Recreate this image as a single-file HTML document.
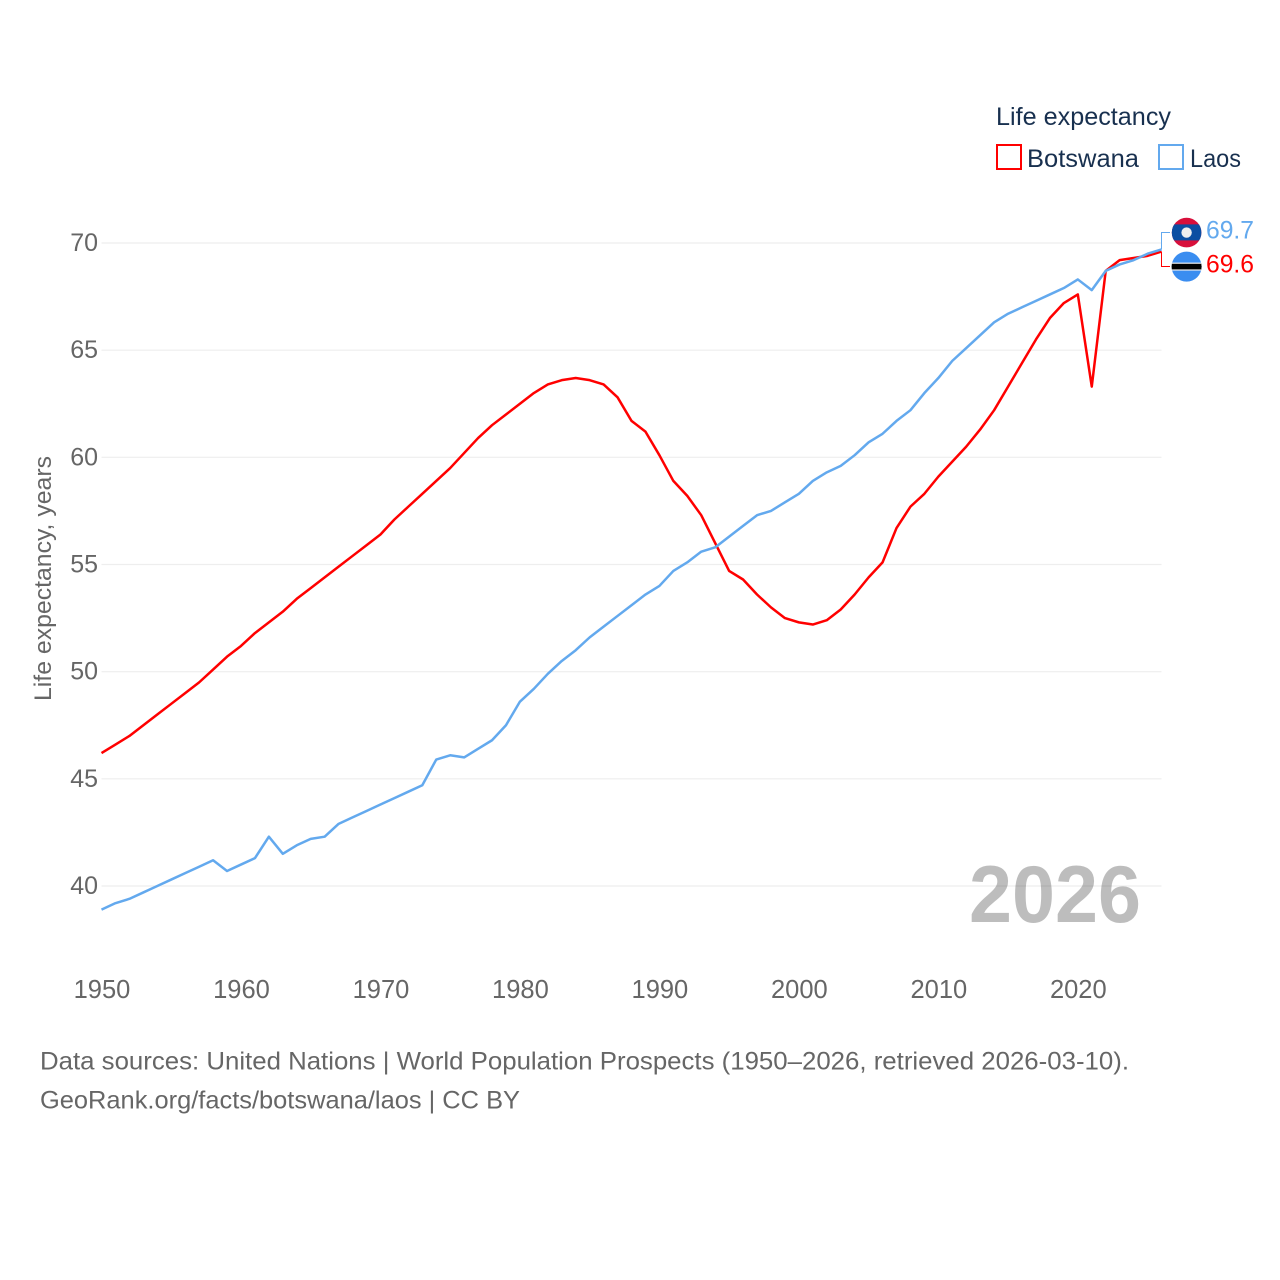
<!DOCTYPE html>
<html lang="en">
<head>
<meta charset="utf-8">
<title>Life expectancy: Botswana and Laos</title>
<style>
html,body{margin:0;padding:0;background:#fff;}
svg{display:block;font-family:"Liberation Sans",Arial,sans-serif;}
</style>
</head>
<body>
<svg id="chart" width="1280" height="1280" viewBox="0 0 1280 1280" xmlns="http://www.w3.org/2000/svg">
  <rect width="1280" height="1280" fill="#fff"/>
  <g id="grid"></g>
  <g id="yticks"></g>
  <g id="xticks"></g>
  <text transform="translate(51,701) rotate(-90)" font-size="24" fill="#666" textLength="245" lengthAdjust="spacingAndGlyphs">Life expectancy, years</text>
  <text x="969" y="922" font-size="81" font-weight="bold" fill="#000" fill-opacity="0.26" textLength="172" lengthAdjust="spacingAndGlyphs">2026</text>
  <path id="connector-botswana" fill="none" stroke="#ff0000" stroke-width="1"/>
  <path id="connector-laos" fill="none" stroke="#63a9ee" stroke-width="1"/>
  <path id="line-botswana" fill="none" stroke="#ff0000" stroke-width="2.5" stroke-linejoin="round"/>
  <path id="line-laos" fill="none" stroke="#63a9ee" stroke-width="2.5" stroke-linejoin="round"/>

  <g>
    <clipPath id="clip-laos"><circle cx="1186.6" cy="232.6" r="14.8"/></clipPath>
    <g clip-path="url(#clip-laos)">
      <rect x="1170" y="216" width="34" height="34" fill="#d80f3b"/>
      <rect x="1170" y="224.4" width="34" height="16" fill="#0b4ea2"/>
      <circle cx="1186.6" cy="232.6" r="5.2" fill="#eeeeee"/>
    </g>
  </g>
  <g>
    <clipPath id="clip-bots"><circle cx="1186.6" cy="266.6" r="15"/></clipPath>
    <g clip-path="url(#clip-bots)">
      <rect x="1170" y="250" width="34" height="34" fill="#3a8df0"/>
      <rect x="1170" y="262.6" width="34" height="8" fill="#eeeeee"/>
      <rect x="1170" y="263.8" width="34" height="5.6" fill="#000"/>
    </g>
  </g>
  <text id="value-laos" x="1206" y="238.5" font-size="25" fill="#63a9ee" textLength="48" lengthAdjust="spacingAndGlyphs"></text>
  <text id="value-botswana" x="1206" y="272.5" font-size="25" fill="#ff0000" textLength="48" lengthAdjust="spacingAndGlyphs"></text>

  <text x="996" y="125" font-size="25" fill="#18304f" textLength="175" lengthAdjust="spacingAndGlyphs">Life expectancy</text>
  <rect x="997" y="145" width="24" height="24" fill="#fff" stroke="#ff0000" stroke-width="2"/>
  <text x="1027" y="167" font-size="25" fill="#18304f" textLength="112" lengthAdjust="spacingAndGlyphs">Botswana</text>
  <rect x="1159" y="145" width="24" height="24" fill="#fff" stroke="#63a9ee" stroke-width="2"/>
  <text x="1190" y="167" font-size="25" fill="#18304f" textLength="51" lengthAdjust="spacingAndGlyphs">Laos</text>

  <text x="40" y="1069.5" font-size="25" fill="#666" textLength="1089" lengthAdjust="spacingAndGlyphs">Data sources: United Nations | World Population Prospects (1950–2026, retrieved 2026-03-10).</text>
  <text x="40" y="1108.5" font-size="25" fill="#666" textLength="480" lengthAdjust="spacingAndGlyphs">GeoRank.org/facts/botswana/laos | CC BY</text>
</svg>
<script>
const startYear = 1950;
const endYear = 2026;
const xTickLabels = [1950, 1960, 1970, 1980, 1990, 2000, 2010, 2020];
const yTickLabels = [40, 45, 50, 55, 60, 65, 70];
const botswana = [46.2,46.6,47.0,47.5,48.0,48.5,49.0,49.5,50.1,50.7,51.2,51.8,52.3,52.8,53.4,53.9,54.4,54.9,55.4,55.9,56.4,57.1,57.7,58.3,58.9,59.5,60.2,60.9,61.5,62.0,62.5,63.0,63.4,63.6,63.7,63.6,63.4,62.8,61.7,61.2,60.1,58.9,58.2,57.3,56.0,54.7,54.3,53.6,53.0,52.5,52.3,52.2,52.4,52.9,53.6,54.4,55.1,56.7,57.7,58.3,59.1,59.8,60.5,61.3,62.2,63.3,64.4,65.5,66.5,67.2,67.6,63.3,68.7,69.2,69.3,69.4,69.6];
const laos = [38.9,39.2,39.4,39.7,40.0,40.3,40.6,40.9,41.2,40.7,41.0,41.3,42.3,41.5,41.9,42.2,42.3,42.9,43.2,43.5,43.8,44.1,44.4,44.7,45.9,46.1,46.0,46.4,46.8,47.5,48.6,49.2,49.9,50.5,51.0,51.6,52.1,52.6,53.1,53.6,54.0,54.7,55.1,55.6,55.8,56.3,56.8,57.3,57.5,57.9,58.3,58.9,59.3,59.6,60.1,60.7,61.1,61.7,62.2,63.0,63.7,64.5,65.1,65.7,66.3,66.7,67.0,67.3,67.6,67.9,68.3,67.8,68.7,69.0,69.2,69.5,69.7];

const NS = 'http://www.w3.org/2000/svg';
function xScale(year) { return 101.5 + (year - startYear) * (1161.5 - 101.5) / (endYear - startYear); }
function yScale(value) { return 886 - (value - 40) * (886 - 243) / 30; }
function linePath(values) {
  return values.map(function (v, i) {
    return (i ? 'L' : 'M') + xScale(startYear + i).toFixed(2) + ' ' + yScale(v).toFixed(2);
  }).join(' ');
}

const grid = document.getElementById('grid');
const yticks = document.getElementById('yticks');
const xticks = document.getElementById('xticks');

yTickLabels.forEach(function (t) {
  const l = document.createElementNS(NS, 'line');
  
  
  l.setAttribute('x1', xScale(startYear));
  l.setAttribute('x2', xScale(endYear));
  l.setAttribute('y1', yScale(t));
  l.setAttribute('y2', yScale(t));
  l.setAttribute('stroke', '#eeeeee');
  l.setAttribute('stroke-width', '1.2');
  grid.appendChild(l);

  const s = document.createElementNS(NS, 'text');
  
  
  s.setAttribute('x', 98);
  s.setAttribute('y', yScale(t) + 8);
  s.setAttribute('text-anchor', 'end');
  s.setAttribute('font-size', '25');
  s.setAttribute('fill', '#666');
  s.textContent = t;
  yticks.appendChild(s);
});

xTickLabels.forEach(function (t) {
  const s = document.createElementNS(NS, 'text');
  
  
  s.setAttribute('x', xScale(t) + 0.5);
  s.setAttribute('y', 998);
  s.setAttribute('text-anchor', 'middle');
  s.setAttribute('font-size', '25.5');
  s.setAttribute('fill', '#666');
  s.textContent = t;
  xticks.appendChild(s);
});

document.getElementById('line-botswana').setAttribute('d', linePath(botswana));
document.getElementById('line-laos').setAttribute('d', linePath(laos));

const lastBots = botswana[botswana.length - 1];
const lastLaos = laos[laos.length - 1];
const endX = xScale(endYear);
document.getElementById('connector-botswana').setAttribute('d', 'M' + endX + ' ' + yScale(lastBots) + ' V266.5 H1170');
document.getElementById('connector-laos').setAttribute('d', 'M' + endX + ' ' + yScale(lastLaos) + ' V232.5 H1170');
document.getElementById('value-botswana').textContent = lastBots.toFixed(1);
document.getElementById('value-laos').textContent = lastLaos.toFixed(1);
</script>
</body>
</html>
